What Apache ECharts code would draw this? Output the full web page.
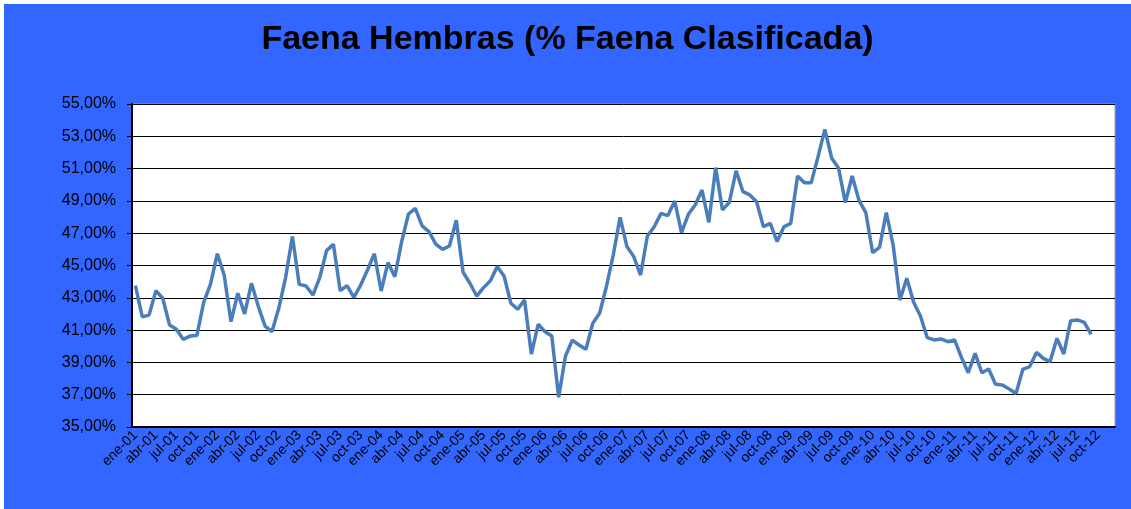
<!DOCTYPE html>
<html>
<head>
<meta charset="utf-8">
<script src="https://cdn.jsdelivr.net/npm/echarts@6/dist/echarts.min.js"></script>
<style>
  html, body { margin: 0; padding: 0; background: #ffffff; }
  #main { position: absolute; left: 4px; top: 4px; width: 1127px; height: 505px; }
</style>
</head>
<body>
<div id="main"></div>
<script>
// meses en español, ene-01 .. dic-12
const monthNames = ["ene", "feb", "mar", "abr", "may", "jun", "jul", "ago", "sep", "oct", "nov", "dic"];
const years = ["01", "02", "03", "04", "05", "06", "07", "08", "09", "10", "11", "12"];

// % faena hembras sobre faena clasificada, ene-01 .. sep-12
const faenaHembras = [
  43.75, 41.83, 41.93, 43.44, 42.97, 41.32, 41.05, 40.43, 40.63, 40.66, 42.72, 43.85,
  45.73, 44.41, 41.52, 43.28, 42.00, 43.90, 42.47, 41.25, 40.90, 42.35, 44.25, 46.80,
  43.83, 43.73, 43.17, 44.25, 45.92, 46.31, 43.44, 43.75, 43.03, 43.79, 44.72, 45.73,
  43.42, 45.18, 44.31, 46.48, 48.19, 48.54, 47.45, 47.10, 46.33, 46.00, 46.21, 47.80,
  44.58, 43.90, 43.11, 43.63, 44.06, 44.93, 44.35, 42.66, 42.29, 42.86, 39.52, 41.36,
  40.90, 40.63, 36.84, 39.40, 40.37, 40.08, 39.81, 41.42, 42.04, 43.70, 45.65, 47.98,
  46.17, 45.55, 44.41, 46.83, 47.40, 48.23, 48.09, 48.99, 47.03, 48.17, 48.75, 49.67,
  47.67, 51.06, 48.44, 48.91, 50.87, 49.57, 49.37, 48.95, 47.40, 47.61, 46.48, 47.40,
  47.61, 50.54, 50.13, 50.13, 51.74, 53.43, 51.64, 51.04, 48.89, 50.54, 49.03, 48.27,
  45.79, 46.12, 48.27, 46.27, 42.86, 44.21, 42.72, 41.87, 40.53, 40.39, 40.45, 40.28,
  40.39, 39.31, 38.36, 39.56, 38.36, 38.59, 37.64, 37.60, 37.35, 37.08, 38.57, 38.74,
  39.62, 39.25, 39.05, 40.49, 39.52, 41.58, 41.63, 41.48, 40.74
];

const yTicks = { min: 35, max: 55, step: 2 };

let categories = [];
years.forEach(y => monthNames.forEach(m => categories.push(m + "-" + y)));

let myChart = echarts.init(document.getElementById("main"));
let option = {
  backgroundColor: "#3366ff",
  animation: false,
  title: {
    text: "Faena Hembras (% Faena Clasificada)",
    left: "center",
    top: 14,
    textStyle: {
      fontFamily: "Liberation Sans",
      fontWeight: "bold",
      fontSize: 34,
      color: "#000000"
    }
  },
  grid: {
    left: 128,
    right: 16,
    top: 100,
    bottom: 82,
    show: true,
    backgroundColor: "#ffffff",
    borderColor: "#a0a0a0",
    borderWidth: 1
  },
  xAxis: {
    type: "category",
    data: categories,
    boundaryGap: true,
    axisLine: { lineStyle: { color: "#000000", width: 2 } },
    axisTick: { interval: 2, length: 4, lineStyle: { color: "#000000" } },
    axisLabel: {
      interval: 2,
      rotate: 45,
      margin: 6,
      fontFamily: "Liberation Sans",
      fontSize: 14,
      color: "#000000"
    },
    splitLine: { show: false }
  },
  yAxis: {
    type: "value",
    min: yTicks.min,
    max: yTicks.max,
    interval: yTicks.step,
    axisLine: { show: true, lineStyle: { color: "#000000", width: 2 } },
    axisTick: { show: true, length: 5, lineStyle: { color: "#000000" } },
    axisLabel: {
      margin: 16,
      fontFamily: "Liberation Sans",
      fontSize: 16,
      color: "#000000",
      formatter: v => v.toFixed(2).replace(".", ",") + "%"
    },
    splitLine: { show: true, lineStyle: { color: "#000000", width: 1 } }
  },
  series: [
    {
      name: "Faena Hembras",
      type: "line",
      data: faenaHembras,
      showSymbol: false,
      symbol: "none",
      lineStyle: { color: "#4a7ebb", width: 3.5 }
    }
  ]
};
myChart.setOption(option);
</script>
</body>
</html>
